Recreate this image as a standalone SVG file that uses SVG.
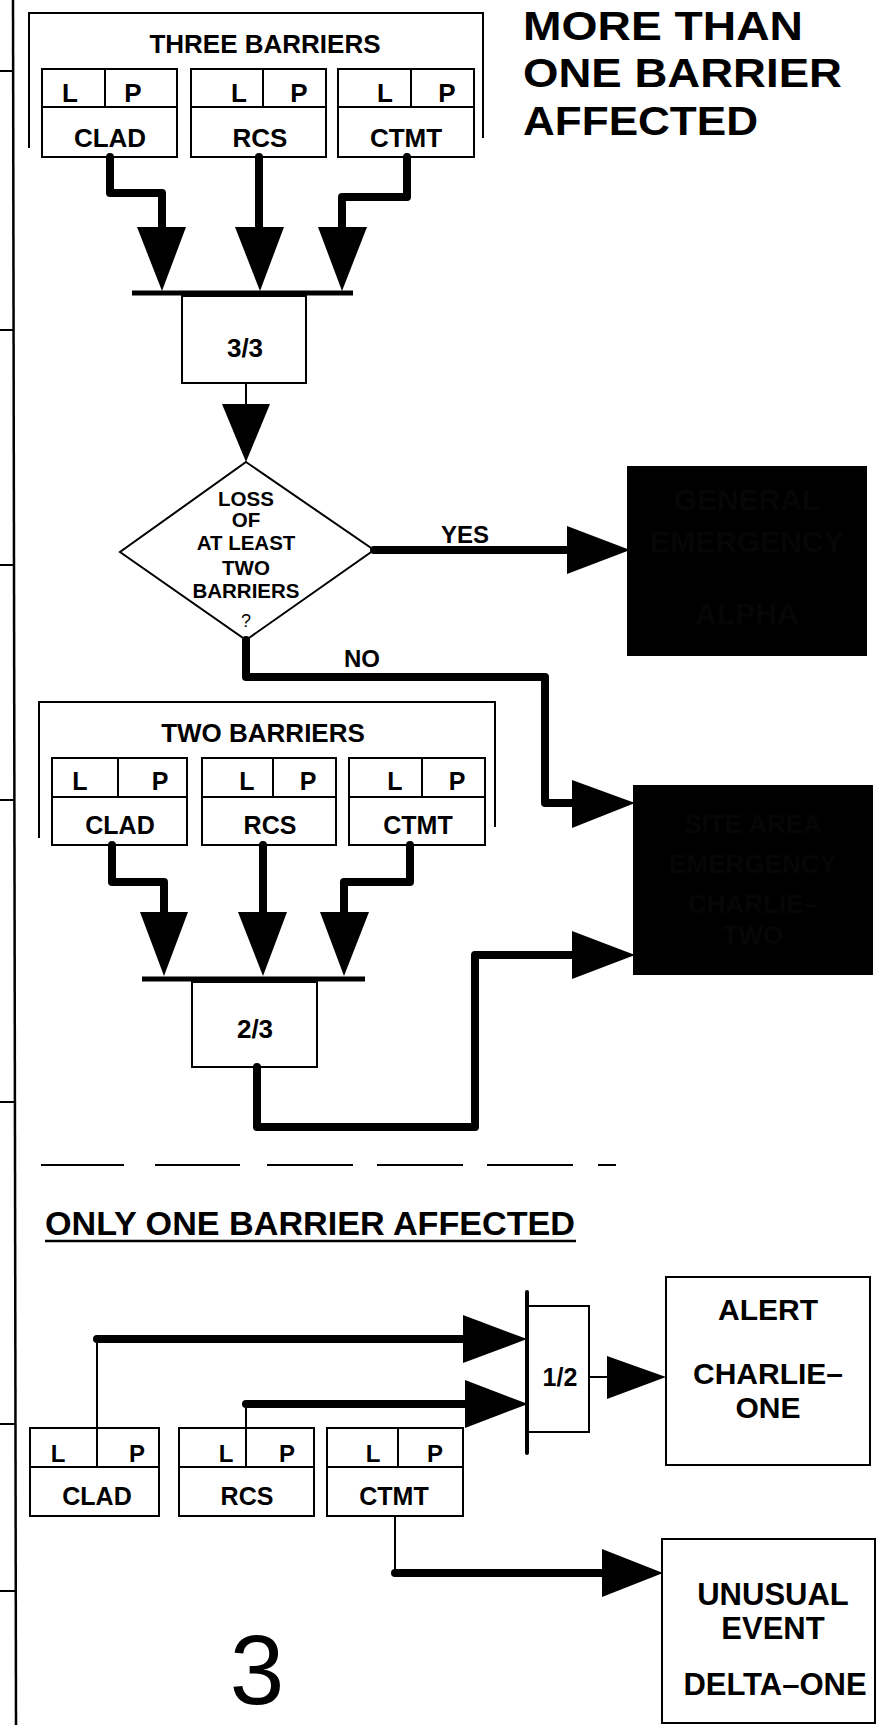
<svg xmlns="http://www.w3.org/2000/svg" width="882" height="1725" viewBox="0 0 882 1725">
<style>
.t{font-family:"Liberation Sans",Arial,Helvetica,sans-serif;font-weight:bold;fill:#000;text-anchor:middle}
.r{font-family:"Liberation Sans",Arial,Helvetica,sans-serif;font-weight:normal;fill:#000;text-anchor:middle}
.g{font-family:"Liberation Sans",Arial,Helvetica,sans-serif;font-weight:bold;fill:#060606;text-anchor:middle}
.box{fill:#fff;stroke:#000;stroke-width:2}
.blk{fill:#000;stroke:#000;stroke-width:2}
.thin{fill:none;stroke:#000;stroke-width:2}
.wire{fill:none;stroke:#000;stroke-width:8;stroke-linejoin:round;stroke-linecap:round}
.ah{fill:#000}
.bar{stroke:#000;stroke-width:5}
.dash{stroke:#000;stroke-width:2}
</style>
<rect width="882" height="1725" fill="#fff"/>
<g id="page-frame">
<line x1="13" y1="0" x2="16" y2="1725" stroke="#000" stroke-width="2.5"/>
<path class="thin" d="M0,71H13M0,330H14M0,565H14M0,800H14M0,1102H15M0,1424H15M0,1591H16"/>
</g>
<g id="title">
<text class="t" style="text-anchor:start" font-size="40" x="523" y="40" textLength="280" lengthAdjust="spacingAndGlyphs">MORE THAN</text>
<text class="t" style="text-anchor:start" font-size="40" x="523" y="87" textLength="319" lengthAdjust="spacingAndGlyphs">ONE BARRIER</text>
<text class="t" style="text-anchor:start" font-size="40" x="523" y="135" textLength="235" lengthAdjust="spacingAndGlyphs">AFFECTED</text>
</g>
<g id="three-barriers">
<path class="thin" d="M29,148V13H483V138"/>
<text class="t" font-size="26" x="265" y="53">THREE BARRIERS</text>
</g>
<g id="top-clad">
<rect class="box" x="42" y="69" width="135" height="88"/>
<path class="thin" d="M42,107H177M105,69V107"/>
<text class="t" font-size="26" x="70" y="102">L</text><text class="t" font-size="26" x="133" y="102">P</text>
<text class="t" font-size="26" x="110" y="147">CLAD</text>
</g>
<g id="top-rcs">
<rect class="box" x="191" y="69" width="135" height="88"/>
<path class="thin" d="M191,107H326M263,69V107"/>
<text class="t" font-size="26" x="239" y="102">L</text><text class="t" font-size="26" x="299" y="102">P</text>
<text class="t" font-size="26" x="260" y="147">RCS</text>
</g>
<g id="top-ctmt">
<rect class="box" x="338" y="69" width="136" height="88"/>
<path class="thin" d="M338,107H474M411,69V107"/>
<text class="t" font-size="26" x="385" y="102">L</text><text class="t" font-size="26" x="447" y="102">P</text>
<text class="t" font-size="26" x="406" y="147">CTMT</text>
</g>
<g id="gate-3of3">
<line class="bar" x1="132" y1="293" x2="353" y2="293"/>
<rect class="box" x="182" y="296" width="124" height="87"/>
<text class="t" font-size="26" x="245" y="357">3/3</text>
</g>
<g id="decision">
<polygon class="box" points="246,462 374,550 246,640 120,552"/>
<text class="t" font-size="20.5" x="246" y="506">LOSS</text>
<text class="t" font-size="20.5" x="246" y="527">OF</text>
<text class="t" font-size="20.5" x="246" y="550">AT LEAST</text>
<text class="t" font-size="20.5" x="246" y="575">TWO</text>
<text class="t" font-size="20.5" x="246" y="598">BARRIERS</text>
<text class="r" font-size="18" x="246" y="627">?</text>
</g>
<g id="general-emergency">
<rect class="blk" x="628" y="467" width="238" height="188"/>
<text class="g" font-size="30" x="747"><tspan x="747" y="510">GENERAL</tspan><tspan x="747" y="552">EMERGENCY</tspan><tspan x="747" y="624">ALPHA</tspan></text>
</g>
<g id="two-barriers">
<path class="thin" d="M39,838V702H495V827"/>
<text class="t" font-size="26" x="263" y="742">TWO BARRIERS</text>
</g>
<g id="mid-clad">
<rect class="box" x="52" y="758" width="135" height="87"/>
<path class="thin" d="M52,797H187M118,758V797"/>
<text class="t" font-size="25" x="80" y="790">L</text><text class="t" font-size="25" x="160" y="790">P</text>
<text class="t" font-size="25" x="120" y="834">CLAD</text>
</g>
<g id="mid-rcs">
<rect class="box" x="202" y="758" width="134" height="87"/>
<path class="thin" d="M202,797H336M273,758V797"/>
<text class="t" font-size="25" x="247" y="790">L</text><text class="t" font-size="25" x="308" y="790">P</text>
<text class="t" font-size="25" x="270" y="834">RCS</text>
</g>
<g id="mid-ctmt">
<rect class="box" x="349" y="758" width="136" height="87"/>
<path class="thin" d="M349,797H485M422,758V797"/>
<text class="t" font-size="25" x="395" y="790">L</text><text class="t" font-size="25" x="457" y="790">P</text>
<text class="t" font-size="25" x="418" y="834">CTMT</text>
</g>
<g id="gate-2of3">
<line class="bar" x1="142" y1="979" x2="365" y2="979"/>
<rect class="box" x="192" y="982" width="125" height="85"/>
<text class="t" font-size="26" x="255" y="1038">2/3</text>
</g>
<g id="site-area-emergency">
<rect class="blk" x="634" y="786" width="238" height="188"/>
<text class="g" font-size="26" x="753"><tspan x="753" y="833">SITE AREA</tspan><tspan x="753" y="873">EMERGENCY</tspan><tspan x="753" y="913">CHARLIE–</tspan><tspan x="753" y="944">TWO</tspan></text>
</g>
<g id="separator">
<path class="dash" d="M41,1165H124M155,1165H240M267,1165H353M377,1165H463M487,1165H573M598,1165H616"/>
</g>
<g id="one-barrier-heading">
<text class="t" style="text-anchor:start" font-size="34" x="45" y="1235" textLength="530" lengthAdjust="spacingAndGlyphs">ONLY ONE BARRIER AFFECTED</text>
<line x1="45" y1="1241" x2="576" y2="1241" stroke="#000" stroke-width="2.5"/>
</g>
<g id="bot-clad">
<rect class="box" x="30" y="1428" width="129" height="88"/>
<path class="thin" d="M30,1467H159M97,1428V1467"/>
<text class="t" font-size="24" x="58" y="1462">L</text><text class="t" font-size="24" x="137" y="1462">P</text>
<text class="t" font-size="25" x="97" y="1505">CLAD</text>
</g>
<g id="bot-rcs">
<rect class="box" x="179" y="1428" width="135" height="88"/>
<path class="thin" d="M179,1467H314M246,1428V1467"/>
<text class="t" font-size="24" x="226" y="1462">L</text><text class="t" font-size="24" x="287" y="1462">P</text>
<text class="t" font-size="25" x="247" y="1505">RCS</text>
</g>
<g id="bot-ctmt">
<rect class="box" x="327" y="1428" width="136" height="88"/>
<path class="thin" d="M327,1467H463M398,1428V1467"/>
<text class="t" font-size="24" x="373" y="1462">L</text><text class="t" font-size="24" x="435" y="1462">P</text>
<text class="t" font-size="25" x="394" y="1505">CTMT</text>
</g>
<g id="gate-1of2">
<line x1="527" y1="1292" x2="527" y2="1453" stroke="#000" stroke-width="4" stroke-linecap="round"/>
<path class="thin" d="M527,1306H589V1432H527"/>
<text class="t" font-size="25" x="560" y="1386">1/2</text>
</g>
<g id="alert">
<rect class="box" x="666" y="1277" width="204" height="188"/>
<text class="t" font-size="30" x="768"><tspan x="768" y="1320">ALERT</tspan><tspan x="768" y="1384">CHARLIE–</tspan><tspan x="768" y="1418">ONE</tspan></text>
</g>
<g id="unusual-event">
<rect class="box" x="662" y="1539" width="213" height="184"/>
<text class="t" font-size="31" x="773"><tspan x="773" y="1605">UNUSUAL</tspan><tspan x="773" y="1639">EVENT</tspan><tspan x="775" y="1695">DELTA–ONE</tspan></text>
</g>
<g id="page-number">
<text class="r" font-size="98" x="257" y="1704">3</text>
</g>
<g id="connectors">
<path class="wire" d="M110,157V193H162V229"/>
<polygon class="ah" points="137,227 186,227 162,291"/>
<path class="wire" d="M259,157V229"/>
<polygon class="ah" points="235,227 284,227 260,291"/>
<path class="wire" d="M407,157V197H342V229"/>
<polygon class="ah" points="318,227 367,227 342,291"/>
<path class="thin" d="M246,383V406"/>
<polygon class="ah" points="222,404 270,404 246,462"/>
<path class="wire" d="M374,550H569"/>
<polygon class="ah" points="567,526 567,574 630,550"/>
<text class="t" font-size="24" x="465" y="543">YES</text>
<path class="wire" d="M246,640V677H545V803H574"/>
<polygon class="ah" points="572,780 572,828 635,803"/>
<text class="t" font-size="24" x="362" y="667">NO</text>
<path class="wire" d="M112,845V882H164V914"/>
<polygon class="ah" points="140,912 188,912 164,976"/>
<path class="wire" d="M263,845V914"/>
<polygon class="ah" points="238,912 287,912 263,976"/>
<path class="wire" d="M410,845V882H344V914"/>
<polygon class="ah" points="320,912 369,912 344,976"/>
<path class="wire" d="M257,1067V1127H475V955H574"/>
<polygon class="ah" points="572,931 572,979 635,955"/>
<path class="thin" d="M97,1467V1339"/>
<path class="wire" d="M97,1339H465"/>
<polygon class="ah" points="463,1315 463,1363 527,1339"/>
<path class="thin" d="M246,1467V1404"/>
<path class="wire" d="M246,1404H467"/>
<polygon class="ah" points="465,1380 465,1428 528,1404"/>
<path class="thin" d="M589,1377H609"/>
<polygon class="ah" points="607,1356 607,1399 666,1377"/>
<path class="thin" d="M395,1516V1573"/>
<path class="wire" d="M395,1573H604"/>
<polygon class="ah" points="602,1549 602,1597 663,1573"/>
</g>
</svg>
